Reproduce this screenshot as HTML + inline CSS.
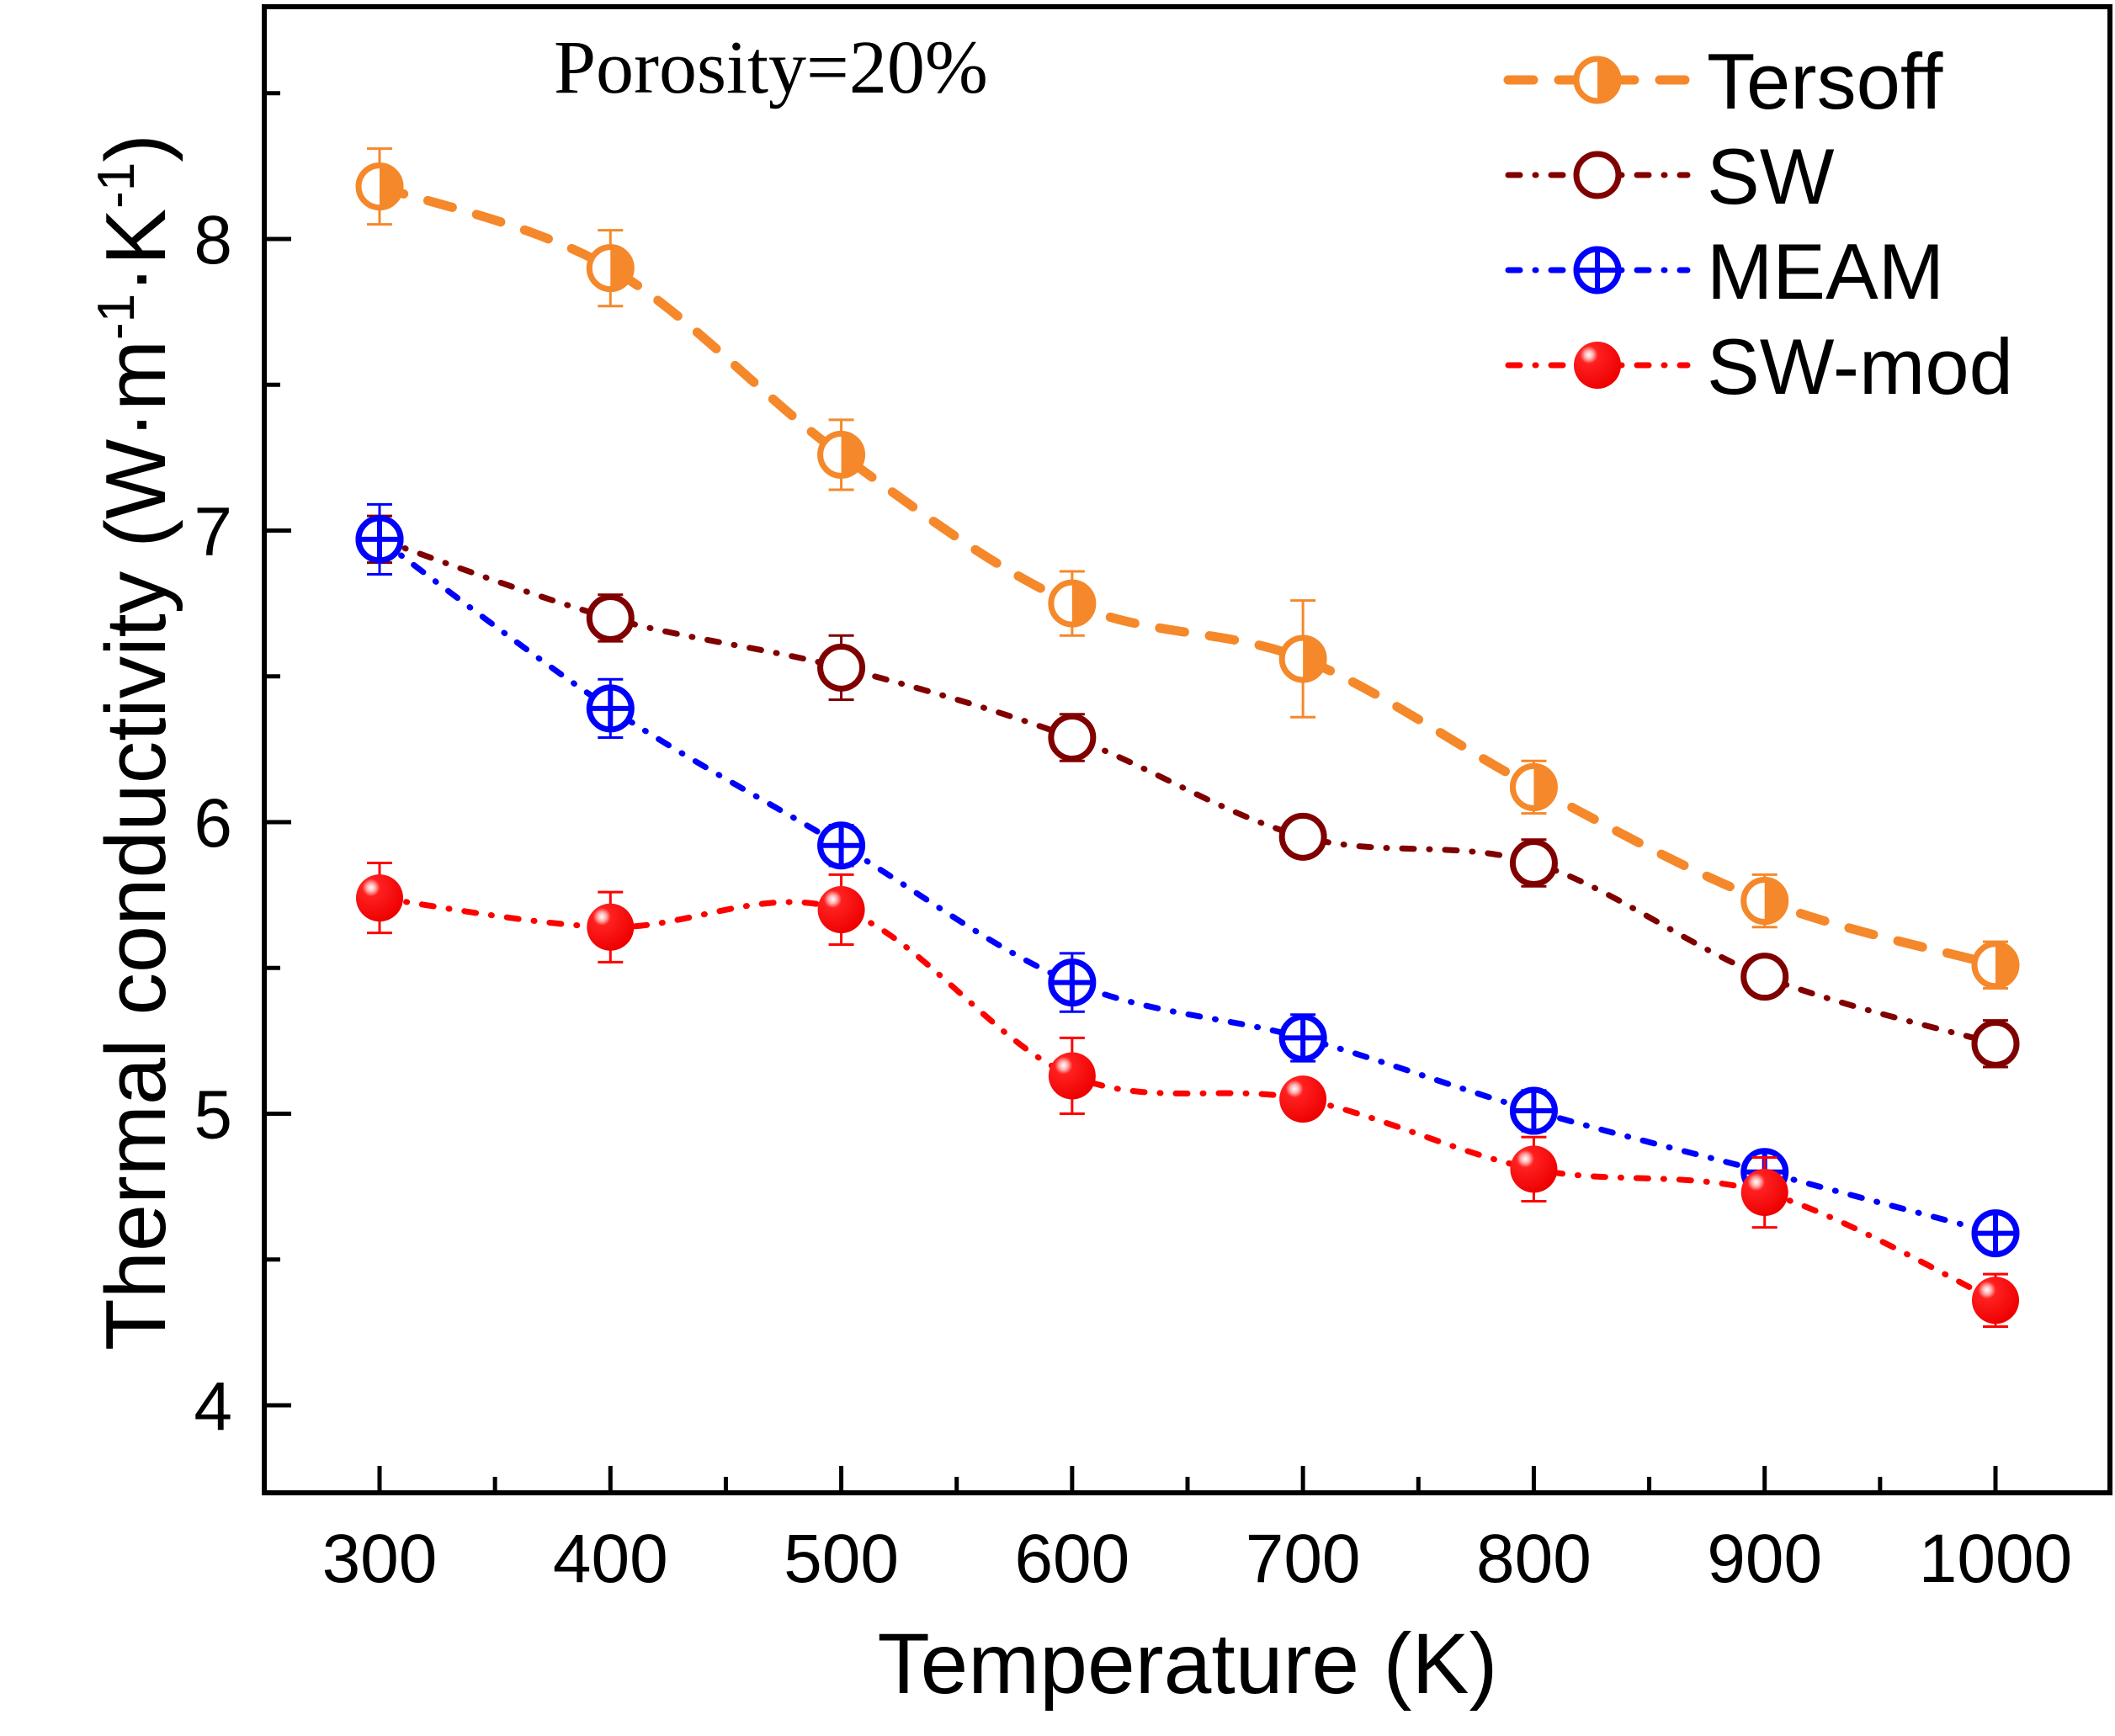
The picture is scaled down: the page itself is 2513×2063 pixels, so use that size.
<!DOCTYPE html>
<html><head><meta charset="utf-8"><style>
html,body{margin:0;padding:0;background:#fff;}
svg text{font-family:"Liberation Sans",Arial,sans-serif;}
</style></head><body>
<svg id="chart" width="2513" height="2058" viewBox="0 0 2513 2058" xmlns="http://www.w3.org/2000/svg">
<defs>
<radialGradient id="ballGrad" cx="0.32" cy="0.28" r="0.75">
<stop offset="0" stop-color="#ffffff"/>
<stop offset="0.12" stop-color="#ffb0b0"/>
<stop offset="0.25" stop-color="#ff2020"/>
<stop offset="1" stop-color="#ee0000"/>
</radialGradient>
</defs>
<g id="axes"></g>
<g id="series"></g>
<g id="legend"></g>
<text x="658" y="110" font-size="90" style="font-family:'Liberation Serif',serif">Porosity=20%</text>
<text x="1411" y="2012" font-size="102" text-anchor="middle">Temperature (K)</text>
<text transform="translate(196,882) rotate(-90)" font-size="101" text-anchor="middle">Thermal conductivity (W·m<tspan dy="-37" font-size="62">-1</tspan><tspan dy="37">·K</tspan><tspan dy="-37" font-size="62">-1</tspan><tspan dy="37">)</tspan></text>
</svg>
<script>
const temps=[300,400,500,600,700,800,900,1000];
const tersoff=[8.18,7.90,7.26,6.75,6.56,6.12,5.73,5.51];
const tersoffErr=[0.13,0.13,0.12,0.11,0.20,0.09,0.09,0.08];
const sw=[6.97,6.70,6.53,6.29,5.95,5.86,5.47,5.24];
const swErr=[0.08,0.08,0.11,0.08,0.06,0.08,0.06,0.08];
const meam=[6.97,6.39,5.92,5.45,5.26,5.01,4.80,4.59];
const meamErr=[0.12,0.10,0.07,0.10,0.08,0.07,0.05,0.05];
const swmod=[5.74,5.64,5.70,5.13,5.05,4.81,4.73,4.36];
const swmodErr=[0.12,0.12,0.12,0.13,0.05,0.11,0.12,0.09];
const xTicks=[300,400,500,600,700,800,900,1000];
const yTicks=[4,5,6,7,8];

const NS="http://www.w3.org/2000/svg";
const L=314,R=2507,T=8,B=1774;
function X(v){return 451+(v-300)*(2371-451)/700;}
function Y(v){return 1670-(v-4)*(1670-284)/4;}
function mk(tag,attrs,parent){const e=document.createElementNS(NS,tag);for(const k in attrs)e.setAttribute(k,attrs[k]);parent.appendChild(e);return e;}
const axes=document.getElementById('axes');
const series=document.getElementById('series');
const legend=document.getElementById('legend');

let frame=mk('rect',{x:L,y:T,width:R-L,height:B-T,fill:'none',stroke:'#000','stroke-width':6},axes);


for(let v=300;v<=1000;v+=50){
  const major=v%100===0;
  const t=mk('line',{x1:X(v),x2:X(v),y1:B,y2:B-(major?32:19),stroke:'#000','stroke-width':5},axes);
  
  
}
xTicks.forEach(v=>{
  const t=mk('text',{x:X(v),y:1880,'font-size':82,'text-anchor':'middle'},axes);
  t.textContent=v;
  
  
});
for(let v=4;v<=8.5;v+=0.5){
  const major=v%1===0;
  const t=mk('line',{x1:L,x2:L+(major?32:19),y1:Y(v),y2:Y(v),stroke:'#000','stroke-width':5},axes);
  
  
}
yTicks.forEach(v=>{
  const t=mk('text',{x:276,y:Y(v)+29,'font-size':82,'text-anchor':'end'},axes);
  t.textContent=v;
  
  
});

function smooth(pts){
  let d='M'+pts[0][0]+','+pts[0][1];
  for(let i=0;i<pts.length-1;i++){
    const p0=pts[Math.max(0,i-1)],p1=pts[i],p2=pts[i+1],p3=pts[Math.min(pts.length-1,i+2)];
    const c1=[p1[0]+(p2[0]-p0[0])/6,p1[1]+(p2[1]-p0[1])/6];
    const c2=[p2[0]-(p3[0]-p1[0])/6,p2[1]-(p3[1]-p1[1])/6];
    d+=' C'+c1+' '+c2+' '+p2;
  }
  return d;
}
function marker(type,cx,cy,color,parent){
  const r=25;
  if(type==='half'){
    mk('circle',{cx,cy,r,fill:'#fff',stroke:color,'stroke-width':7},parent);
    mk('path',{d:`M${cx},${cy-r} A${r},${r} 0 0 1 ${cx},${cy+r} Z`,fill:color},parent);
  }else if(type==='open'){
    mk('circle',{cx,cy,r,fill:'#fff',stroke:color,'stroke-width':7},parent);
  }else if(type==='plus'){
    mk('circle',{cx,cy,r,fill:'#fff',stroke:color,'stroke-width':7},parent);
    mk('line',{x1:cx-r,x2:cx+r,y1:cy,y2:cy,stroke:color,'stroke-width':6},parent);
    mk('line',{x1:cx,x2:cx,y1:cy-r,y2:cy+r,stroke:color,'stroke-width':6},parent);
  }else{
    mk('circle',{cx,cy,r:r+3,fill:'url(#ballGrad)'},parent);
  }
}
const defs=[
  {name:'tersoff',label:'Tersoff',vals:tersoff,err:tersoffErr,color:'#F5882A',type:'half',dash:'30 30',w:11},
  {name:'sw',label:'SW',vals:sw,err:swErr,color:'#800000',type:'open',dash:'14 18 1 18',w:7},
  {name:'meam',label:'MEAM',vals:meam,err:meamErr,color:'#0000FF',type:'plus',dash:'14 18 1 18',w:7},
  {name:'sw-mod',label:'SW-mod',vals:swmod,err:swmodErr,color:'#FF0000',type:'ball',dash:'14 18 1 18',w:7}
];
defs.forEach((s,si)=>{
  const g=mk('g',{},series);
  
  
  const pts=temps.map((t,i)=>[X(t),Y(s.vals[i])]);
  const line=mk('path',{d:smooth(pts),fill:'none',stroke:s.color,'stroke-width':s.w,'stroke-dasharray':s.dash,'stroke-linecap':'round'},g);
  
  
  temps.forEach((t,i)=>{
    const cx=X(t),y1=Y(s.vals[i]+s.err[i]),y2=Y(s.vals[i]-s.err[i]);
    const eb=mk('g',{stroke:s.color,'stroke-width':3},g);
    
    
    mk('line',{x1:cx,x2:cx,y1,y2},eb);
    mk('line',{x1:cx-15,x2:cx+15,y1,y2:y1},eb);
    mk('line',{x1:cx-15,x2:cx+15,y1:y2,y2:y2},eb);
  });
  temps.forEach((t,i)=>{
    const m=mk('g',{},g);
    
    
    marker(s.type,X(t),Y(s.vals[i]),s.color,m);
  });
  const ly=95+si*113;
  const le=mk('g',{},legend);
  
  
  mk('line',{x1:1792,x2:2005,y1:ly,y2:ly,stroke:s.color,'stroke-width':s.w,'stroke-dasharray':s.dash,'stroke-linecap':'round'},le);
  marker(s.type,1898,ly,s.color,le);
  const tx=mk('text',{x:2028,y:ly+34,'font-size':94},le);
  tx.textContent=s.label;
});
</script>
</body></html>
